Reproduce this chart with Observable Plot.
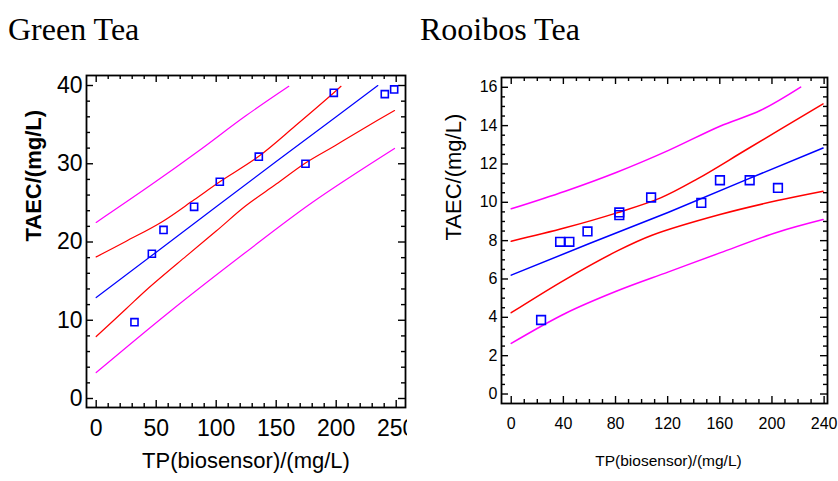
<!DOCTYPE html>
<html>
<head>
<meta charset="utf-8">
<script src="https://cdn.jsdelivr.net/npm/d3@7"></script>
<script src="https://cdn.jsdelivr.net/npm/@observablehq/plot@0.6"></script>
<style>
  html, body { margin: 0; padding: 0; background: #fff; }
  #wrap { position: relative; width: 838px; height: 481px; background: #fff; overflow: hidden; }
  .title { position: absolute; font-family: "Liberation Serif", "Times New Roman", serif; font-size: 32px; line-height: 1; color: #000; white-space: nowrap; }
  .panel { position: absolute; top: 60px; }
  g[aria-label="xtitle"] text { letter-spacing: 1.2px; }
  g[aria-label="ytitle"] text { letter-spacing: 1px; }
  g[aria-label="xtitle-r"] text { letter-spacing: 0.8px; }
</style>
</head>
<body>
<div id="wrap">
  <div class="title" style="left:8px; top:13px;">Green Tea</div>
  <div class="title" style="left:420px; top:13px;">Rooibos Tea</div>
  <div id="left" class="panel" style="left:0px;"></div>
  <div id="right" class="panel" style="left:420px;"></div>
</div>
<script>
// ---------------- Green Tea data ----------------
const gtTitle = "Green Tea";
const gtPointX = [31.9, 46.4, 56.1, 81.6, 103, 135.5, 174.4, 198, 240.5, 248.3];
const gtPointY = [9.75, 18.5, 21.55, 24.5, 27.7, 30.9, 30.0, 39.07, 38.9, 39.5];

const gtFitX = [0, 50, 100, 150, 200, 234.7];
const gtFitY = [12.9, 18.7, 24.5, 30.3, 36.0, 40.0];

const gtConfUpX = [0, 25, 55, 81.6, 103, 135.5, 166, 198, 204];
const gtConfUpY = [18.1, 20.1, 22.6, 25.4, 27.7, 30.95, 34.85, 39.07, 39.9];
const gtConfLoX = [0, 25, 42.5, 75, 100, 124.4, 150, 174.4, 200, 225, 248.6];
const gtConfLoY = [7.92, 11.47, 13.97, 18.2, 21.4, 24.6, 27.4, 30.1, 32.4, 34.7, 36.8];

const gtPredUpX = [0, 46.7, 85, 124.4, 160.5];
const gtPredUpY = [22.5, 27.4, 31.6, 36.1, 39.9];
const gtPredLoX = [0, 60.5, 124.4, 180, 248.6];
const gtPredLoY = [3.32, 11.0, 18.66, 25.05, 31.95];

const gtXTicks = [0, 50, 100, 150, 200, 250];
const gtYTicks = [0, 10, 20, 30, 40];
const gtXMinor = d3.range(0, 251, 10);
const gtYMinor = d3.range(0, 41, 2);

// ---------------- Rooibos Tea data ----------------
const rtTitle = "Rooibos Tea";
const rtPointX = [22.9, 37.5, 44.6, 58.5, 82.9, 82.9, 107.3, 145.8, 160.1, 182.9, 204.6];
const rtPointY = [3.86, 7.94, 7.94, 8.48, 9.33, 9.47, 10.25, 9.97, 11.15, 11.15, 10.75];

const rtFitX = [0, 60, 120.7, 180, 239.2];
const rtFitY = [6.2, 7.85, 9.48, 11.17, 12.83];

const rtConfUpX = [0, 41.4, 81, 114.6, 142.8, 181.2, 239.2];
const rtConfUpY = [7.97, 8.67, 9.45, 10.23, 11.22, 12.78, 15.13];
const rtConfLoX = [0, 41.4, 81, 108, 160.1, 204.2, 239.2];
const rtConfLoY = [4.24, 5.97, 7.45, 8.28, 9.36, 10.09, 10.58];

const rtPredUpX = [0, 41.4, 81, 120.7, 160.1, 191.4, 222];
const rtPredUpY = [9.66, 10.58, 11.57, 12.71, 13.97, 14.8, 16.01];
const rtPredLoX = [0, 41.4, 81, 120.7, 160.1, 204.2, 239.2];
const rtPredLoY = [2.64, 4.2, 5.37, 6.37, 7.36, 8.44, 9.1];

const rtXTicks = [0, 40, 80, 120, 160, 200, 240];
const rtYTicks = [0, 2, 4, 6, 8, 10, 12, 14, 16];
const rtXMinor = d3.range(0, 241, 10);
const rtYMinor = d3.range(0, 16.01, 0.5);

const xLabel = "TP(biosensor)/(mg/L)";
const yLabel = "TAEC/(mg/L)";

const pts = (xs, ys) => xs.map((x, i) => ({x, y: ys[i]}));

function panel(cfg) {
  const fw = cfg.width - cfg.marginLeft - cfg.marginRight;
  const fh = cfg.height - cfg.marginTop - cfg.marginBottom;
  const tickOpts = {stroke: "#000", strokeWidth: 1.4};
  const minorX = cfg.xMinor.filter(v => !cfg.xTicks.includes(v));
  const minorY = cfg.yMinor.filter(v => !cfg.yTicks.includes(v));
  const crv = "catmull-rom";
  return Plot.plot({
    width: cfg.width,
    height: cfg.height,
    marginLeft: cfg.marginLeft,
    marginRight: cfg.marginRight,
    marginTop: cfg.marginTop,
    marginBottom: cfg.marginBottom,
    x: {domain: cfg.xDomain},
    y: {domain: cfg.yDomain},
    style: {fontFamily: "'Liberation Sans', Arial, sans-serif", background: "white", color: "#000"},
    marks: [
      // inward ticks: left / right (major, minor)
      Plot.tickY(cfg.yTicks, {y: d => d, insetRight: fw - 7, ...tickOpts}),
      Plot.tickY(minorY, {y: d => d, insetRight: fw - 4, ...tickOpts}),
      Plot.tickY(cfg.yTicks, {y: d => d, insetLeft: fw - 7, ...tickOpts}),
      Plot.tickY(minorY, {y: d => d, insetLeft: fw - 4, ...tickOpts}),
      // inward ticks: bottom / top
      Plot.tickX(cfg.xTicks, {x: d => d, insetTop: fh - 7, ...tickOpts}),
      Plot.tickX(minorX, {x: d => d, insetTop: fh - 4, ...tickOpts}),
      Plot.tickX(cfg.xTicks, {x: d => d, insetBottom: fh - 7, ...tickOpts}),
      Plot.tickX(minorX, {x: d => d, insetBottom: fh - 4, ...tickOpts}),
      // tick labels
      Plot.axisY({ticks: cfg.yTicks, tickSize: 0, tickPadding: cfg.yPad, fontSize: cfg.tickFont, label: null}),
      Plot.axisX({ticks: cfg.xTicks, tickSize: 0, tickPadding: cfg.xPad, fontSize: cfg.tickFont, label: null}),
      // bands and fit
      Plot.line(pts(cfg.predUpX, cfg.predUpY), {x: "x", y: "y", stroke: "#ff00ff", strokeWidth: cfg.lw, curve: crv}),
      Plot.line(pts(cfg.predLoX, cfg.predLoY), {x: "x", y: "y", stroke: "#ff00ff", strokeWidth: cfg.lw, curve: crv}),
      Plot.line(pts(cfg.confUpX, cfg.confUpY), {x: "x", y: "y", stroke: "#ff0000", strokeWidth: cfg.lw, curve: crv}),
      Plot.line(pts(cfg.confLoX, cfg.confLoY), {x: "x", y: "y", stroke: "#ff0000", strokeWidth: cfg.lw, curve: crv}),
      Plot.line(pts(cfg.fitX, cfg.fitY), {x: "x", y: "y", stroke: "#0000ff", strokeWidth: cfg.lw}),
      // points
      Plot.dot(pts(cfg.pointX, cfg.pointY), {x: "x", y: "y", symbol: "square", r: cfg.r, stroke: "#0000ff", strokeWidth: 1.6, fill: "none"}),
      // frame
      Plot.frame({stroke: "#000", strokeWidth: 1.8}),
      // axis titles
      Plot.text([xLabel], {text: d => d, frameAnchor: "bottom", dy: cfg.xLabDy, dx: cfg.xLabDx, fontSize: cfg.xLabFont, ariaLabel: cfg.xAria}),
      Plot.text([yLabel], {text: d => d, frameAnchor: "left", dx: cfg.yLabDx, rotate: -90, fontSize: cfg.yLabFont, fontWeight: cfg.yLabWeight, ariaLabel: "ytitle"})
    ]
  });
}

document.getElementById("left").appendChild(panel({
  width: 407, height: 421, marginLeft: 86, marginRight: 2, marginTop: 15, marginBottom: 74,
  xDomain: [-8.08, 257.75], yDomain: [-1.15, 41.28],
  xTicks: gtXTicks, yTicks: gtYTicks, xMinor: gtXMinor, yMinor: gtYMinor,
  tickFont: 23, yPad: 4, xPad: 12,
  pointX: gtPointX, pointY: gtPointY, fitX: gtFitX, fitY: gtFitY,
  confUpX: gtConfUpX, confUpY: gtConfUpY, confLoX: gtConfLoX, confLoY: gtConfLoY,
  predUpX: gtPredUpX, predUpY: gtPredUpY, predLoX: gtPredLoX, predLoY: gtPredLoY,
  lw: 1.2, r: 4,
  xLabDy: 60, xLabDx: 0, xLabFont: 22, xAria: "xtitle",
  yLabDx: -53, yLabFont: 22, yLabWeight: "bold"
}));

document.getElementById("right").appendChild(panel({
  width: 418, height: 421, marginLeft: 81, marginRight: 11, marginTop: 17, marginBottom: 78,
  xDomain: [-7.46, 242.6], yDomain: [-0.495, 16.51],
  xTicks: rtXTicks, yTicks: rtYTicks, xMinor: rtXMinor, yMinor: rtYMinor,
  tickFont: 16, yPad: 4, xPad: 14,
  pointX: rtPointX, pointY: rtPointY, fitX: rtFitX, fitY: rtFitY,
  confUpX: rtConfUpX, confUpY: rtConfUpY, confLoX: rtConfLoX, confLoY: rtConfLoY,
  predUpX: rtPredUpX, predUpY: rtPredUpY, predLoX: rtPredLoX, predLoY: rtPredLoY,
  lw: 1.5, r: 4.9,
  xLabDy: 62, xLabDx: 4, xLabFont: 15.5, xAria: "xtitle-r",
  yLabDx: -48, yLabFont: 22, yLabWeight: "normal"
}));
</script>
</body>
</html>
